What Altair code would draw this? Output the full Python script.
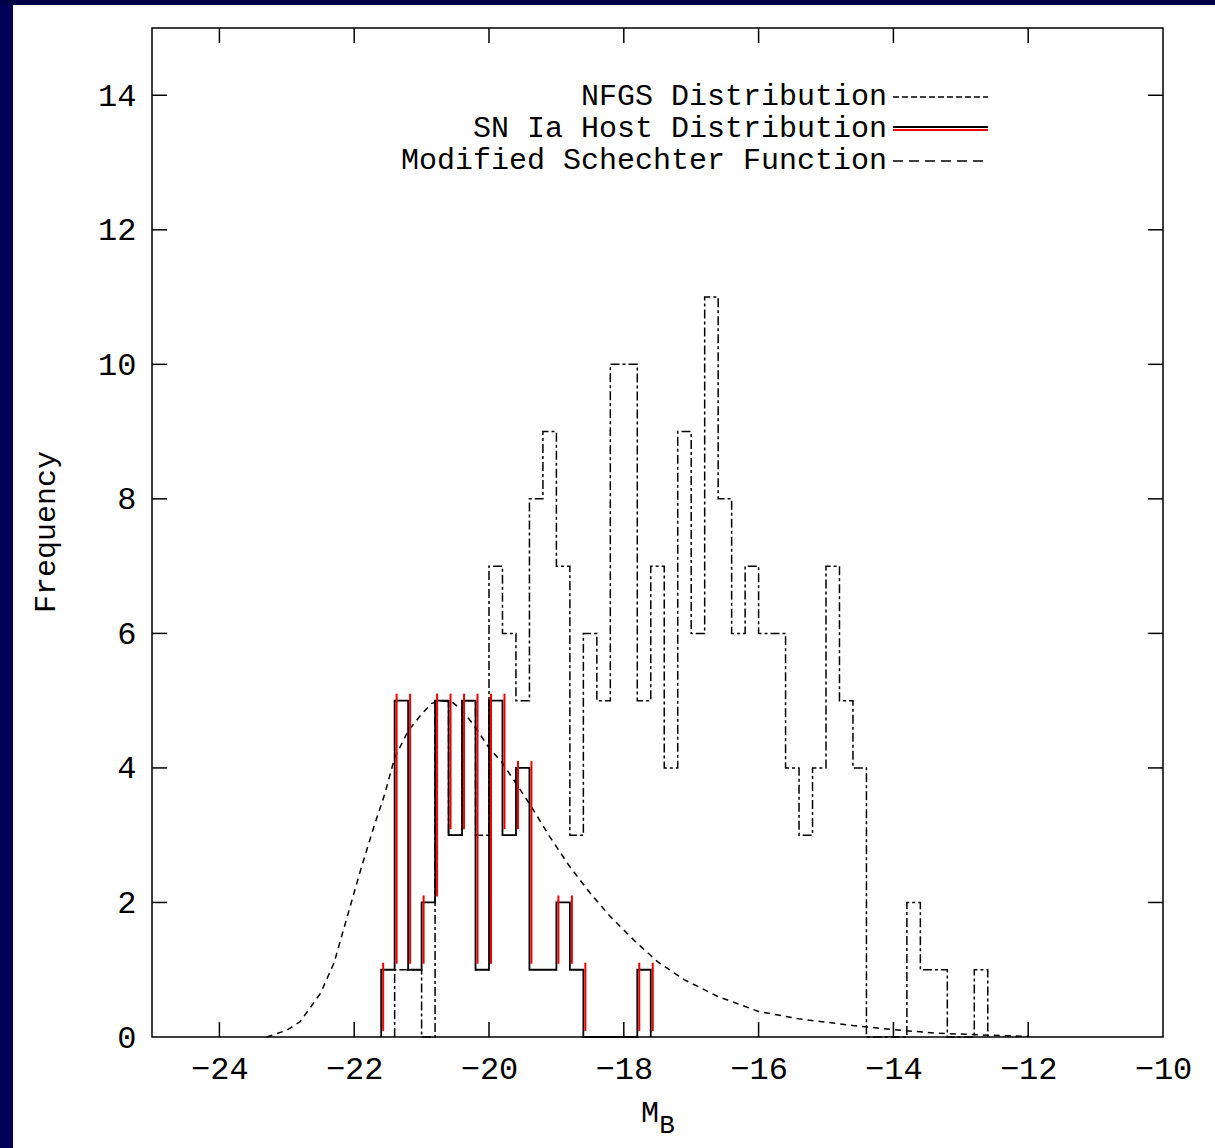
import altair as alt
import pandas as pd

# ---------------- data ----------------
# NFGS distribution: bin left edges (bin width 0.2 mag) and counts
nfgs_left = [-21.4, -21.2, -21.0, -20.8, -20.6, -20.4, -20.2, -20.0, -19.8, -19.6,
             -19.4, -19.2, -19.0, -18.8, -18.6, -18.4, -18.2, -18.0, -17.8, -17.6,
             -17.4, -17.2, -17.0, -16.8, -16.6, -16.4, -16.2, -16.0, -15.8, -15.6,
             -15.4, -15.2, -15.0, -14.8, -14.6, -14.4, -14.2, -14.0, -13.8, -13.6,
             -13.4, -13.2, -13.0, -12.8]
nfgs_count = [1, 1, 0, 5, 3, 5, 3, 7, 6, 5,
              8, 9, 7, 3, 6, 5, 10, 10, 5, 7,
              4, 9, 6, 11, 8, 6, 7, 6, 6, 4,
              3, 4, 7, 5, 4, 0, 0, 0, 2, 1,
              1, 0, 0, 1]
nfgs_end = -12.6

# SN Ia host distribution
sn_left = [-21.6, -21.4, -21.2, -21.0, -20.8, -20.6, -20.4, -20.2, -20.0, -19.8,
           -19.6, -19.4, -19.2, -19.0, -18.8, -18.6, -18.4, -18.2, -18.0, -17.8]
sn_count = [1, 5, 1, 2, 5, 3, 5, 1, 5, 3, 4, 1, 1, 2, 1, 0, 0, 0, 0, 1]
sn_end = -17.6

# Modified Schechter function curve
sch_x = [-23.3, -23.0, -22.8, -22.5, -22.3, -22.1, -21.9, -21.7, -21.55, -21.4,
         -21.2, -21.0, -20.85, -20.7, -20.55, -20.4, -20.2, -20.0, -19.8, -19.6,
         -19.4, -19.1, -18.8, -18.5, -18.2, -17.85, -17.5, -17.1, -16.6, -16.0,
         -15.4, -14.6, -14.0, -13.4, -12.7, -12.0]
sch_y = [0.0, 0.1, 0.23, 0.65, 1.1, 1.8, 2.5, 3.15, 3.6, 4.15,
         4.55, 4.8, 4.96, 5.0, 4.98, 4.86, 4.6, 4.3, 4.07, 3.77,
         3.47, 2.98, 2.53, 2.14, 1.79, 1.44, 1.12, 0.85, 0.6, 0.38,
         0.27, 0.17, 0.11, 0.06, 0.03, 0.01]

x_ticks = [-24, -22, -20, -18, -16, -14, -12, -10]
y_ticks = [0, 2, 4, 6, 8, 10, 12, 14]
legend_labels = ["NFGS Distribution", "SN Ia Host Distribution", "Modified Schechter Function"]
x_title = ["M", "B"]
y_title = "Frequency"

# ---------------- derived tables ----------------
def steps(left, count, end):
    xs = [left[0]] + list(left) + [end]
    ys = [0] + list(count) + [0]
    return pd.DataFrame({"x": xs, "y": ys, "i": list(range(len(xs)))})

nfgs_df = steps(nfgs_left, nfgs_count, nfgs_end)
sn_df = steps(sn_left, sn_count, sn_end)

edges = list(sn_left) + [sn_end]
before = [0] + list(sn_count)
after = list(sn_count) + [0]
red_df = pd.DataFrame({"x": edges,
                       "lo": [min(a, b) for a, b in zip(before, after)],
                       "hi": [max(a, b) for a, b in zip(before, after)]})
red_df = red_df[red_df["lo"] != red_df["hi"]]

sch_df = pd.DataFrame({"x": sch_x, "y": sch_y})
xt_df = pd.DataFrame({"x": x_ticks[:-1]})
yt_df = pd.DataFrame({"y": y_ticks[1:]})
one = pd.DataFrame({"a": [0]})

FONT = "Liberation Mono"
FS = 32
LFS = 30
W, H = 1011, 1009

xscale = alt.Scale(domain=[-25, -10], nice=False, zero=False)
yscale = alt.Scale(domain=[0, 15], nice=False, zero=False)
xaxis = alt.Axis(values=x_ticks, ticks=False, domain=False, grid=False, title=None,
                 labelFont=FONT, labelFontSize=FS, labelColor="black", labelPadding=16,
                 labelFlush=False, labelOverlap=False)
yaxis = alt.Axis(values=y_ticks, ticks=False, domain=False, grid=False, title=None,
                 labelFont=FONT, labelFontSize=FS, labelColor="black", labelPadding=16,
                 labelOverlap=False)


def X(field="x"):
    return alt.X(f"{field}:Q", scale=xscale, axis=xaxis)


def Y(field="y"):
    return alt.Y(f"{field}:Q", scale=yscale, axis=yaxis)


# background frame (navy slide border)
navy_left = alt.Chart(one).mark_rect(color="#00005a").encode(
    x=alt.value(-152), x2=alt.value(-139), y=alt.value(-28), y2=alt.value(H + 111))
navy_top = alt.Chart(one).mark_rect(color="#000048").encode(
    x=alt.value(-152), x2=alt.value(W + 52), y=alt.value(-28), y2=alt.value(-23))

nfgs = alt.Chart(nfgs_df).mark_line(interpolate="step-after", color="black",
                                    strokeWidth=1.5, strokeDash=[9, 3, 3, 3]).encode(
    x=X(), y=Y(), order="i:Q")
sn = alt.Chart(sn_df).mark_line(interpolate="step-after", color="black",
                                strokeWidth=1.8).encode(x=X(), y=Y(), order="i:Q")
red = alt.Chart(red_df).mark_rule(color="#ee0000", strokeWidth=2, xOffset=2,
                                  yOffset=-6, y2Offset=-7).encode(
    x=X(), y=Y("lo"), y2="hi:Q")
sch = alt.Chart(sch_df).mark_line(color="black", strokeWidth=1.5,
                                  strokeDash=[6, 5]).encode(x=X(), y=Y())

# inward ticks on all four sides
tb = alt.Chart(xt_df).mark_rule(color="black", strokeWidth=1.5).encode(
    x=X(), y=alt.value(H), y2=alt.value(H - 15))
tt = alt.Chart(xt_df).mark_rule(color="black", strokeWidth=1.5).encode(
    x=X(), y=alt.value(0), y2=alt.value(15))
tl = alt.Chart(yt_df).mark_rule(color="black", strokeWidth=1.5).encode(
    y=Y(), x=alt.value(0), x2=alt.value(15))
tr = alt.Chart(yt_df).mark_rule(color="black", strokeWidth=1.5).encode(
    y=Y(), x=alt.value(W), x2=alt.value(W - 15))

# axis titles
ytitle = alt.Chart(one).mark_text(text=y_title, font=FONT, fontSize=FS - 2, angle=270,
                                  color="black", align="center", baseline="middle").encode(
    x=alt.value(-106), y=alt.value(504))
xt_m = alt.Chart(one).mark_text(text=x_title[0], font=FONT, fontSize=FS - 2, color="black",
                                align="center", baseline="middle").encode(
    x=alt.value(498), y=alt.value(1085))
xt_b = alt.Chart(one).mark_text(text=x_title[1], font=FONT, fontSize=FS - 6, color="black",
                                align="center", baseline="middle").encode(
    x=alt.value(515), y=alt.value(1097))

# legend
LX_T, LX0, LX1 = 735, 741, 836
rows = [68, 100, 132]
leg = []
for lab, ry in zip(legend_labels, rows):
    leg.append(alt.Chart(one).mark_text(text=lab, font=FONT, fontSize=LFS, color="black",
                                        align="right", baseline="middle").encode(
        x=alt.value(LX_T), y=alt.value(ry)))
leg.append(alt.Chart(one).mark_rule(color="black", strokeWidth=1.5, strokeDash=[6, 3]).encode(
    x=alt.value(LX0), x2=alt.value(LX1), y=alt.value(rows[0] + 1)))
leg.append(alt.Chart(one).mark_rule(color="black", strokeWidth=2).encode(
    x=alt.value(LX0), x2=alt.value(LX1), y=alt.value(rows[1] - 1)))
leg.append(alt.Chart(one).mark_rule(color="#ee0000", strokeWidth=2).encode(
    x=alt.value(LX0), x2=alt.value(LX1), y=alt.value(rows[1] + 2)))
leg.append(alt.Chart(one).mark_rule(color="black", strokeWidth=1.5, strokeDash=[10, 6]).encode(
    x=alt.value(LX0), x2=alt.value(LX1), y=alt.value(rows[2] + 1)))

chart = alt.layer(
    navy_left, navy_top, nfgs, sch, sn, red, tb, tt, tl, tr, ytitle, xt_m, xt_b, *leg
).properties(
    width=W, height=H,
    autosize=alt.AutoSizeParams(type="none"),
    padding={"left": 152, "top": 28, "right": 52, "bottom": 111},
    background="white",
).configure_view(stroke="black", strokeWidth=1.5)

chart.save("out.html", embed_options={"renderer": "svg", "actions": False})
